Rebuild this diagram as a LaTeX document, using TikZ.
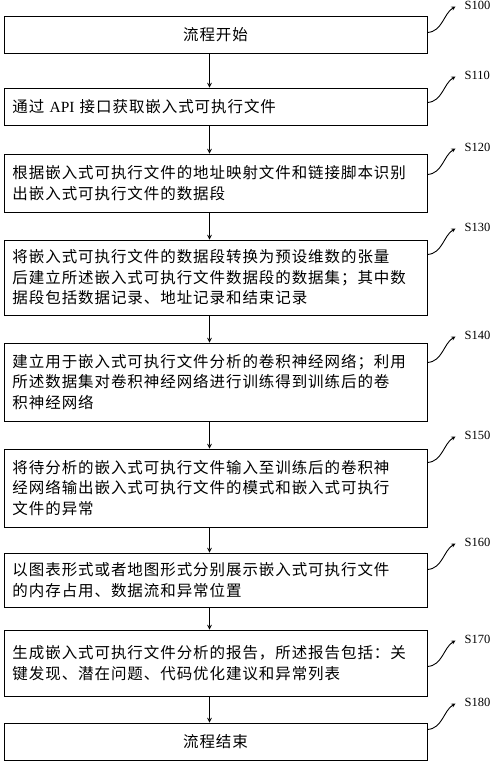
\documentclass[tikz,border=0pt]{standalone}
\usepackage{fontspec}
\setmainfont{Liberation Serif}
\newfontfamily\cjk{Noto Sans CJK SC}[LetterSpace=6]
\usetikzlibrary{calc}

\tikzset{
	stepbox/.style = {draw, line width=1pt, minimum width=423pt, text width=406pt,
		inner xsep=8.5pt, inner ysep=0pt, align=left,
		font=\cjk\fontsize{15.5}{20.5}\selectfont},
	flow/.style = {-stealth, line width=1.1pt},
	tag/.style = {-stealth, line width=0.9pt},
	taglabel/.style = {anchor=west, inner sep=0pt, font=\fontsize{12.5}{14}\selectfont}
}

\begin{document}
\begin{tikzpicture}[x=1pt, y=1pt]
	\useasboundingbox (0,0) rectangle (500,-764);

	\node [stepbox, align=center, minimum height=37pt] (s100) at (215.5,-34.5) {流程开始};
	\node [stepbox, minimum height=37pt] (s110) at (215.5,-106.5) {通过 {\rmfamily API} 接口获取嵌入式可执行文件};
	\node [stepbox, minimum height=58pt] (s120) at (215.5,-183) {根据嵌入式可执行文件的地址映射文件和链接脚本识别\\出嵌入式可执行文件的数据段};
	\node [stepbox, minimum height=75pt] (s130) at (215.5,-277.5) {将嵌入式可执行文件的数据段转换为预设维数的张量\\后建立所述嵌入式可执行文件数据段的数据集；其中数\\据段包括数据记录、地址记录和结束记录};
	\node [stepbox, minimum height=78pt] (s140) at (215.5,-382) {建立用于嵌入式可执行文件分析的卷积神经网络；利用\\所述数据集对卷积神经网络进行训练得到训练后的卷\\积神经网络};
	\node [stepbox, minimum height=78pt] (s150) at (215.5,-488) {将待分析的嵌入式可执行文件输入至训练后的卷积神\\经网络输出嵌入式可执行文件的模式和嵌入式可执行\\文件的异常};
	\node [stepbox, minimum height=54pt] (s160) at (215.5,-580) {以图表形式或者地图形式分别展示嵌入式可执行文件\\的内存占用、数据流和异常位置};
	\node [stepbox, minimum height=66pt] (s170) at (215.5,-663) {生成嵌入式可执行文件分析的报告，所述报告包括：关\\键发现、潜在问题、代码优化建议和异常列表};
	\node [stepbox, align=center, minimum height=37pt] (s180) at (215.5,-741.5) {流程结束};

	\foreach \a/\b in {s100/s110, s110/s120, s120/s130, s130/s140, s140/s150, s150/s160, s160/s170, s170/s180}
	{
		\draw [flow] ([xshift=-6pt]\a.south) -- ([xshift=-6pt]\b.north);
	}

	\foreach \n/\d/\t in {s100/17/S100, s110/15/S110, s120/21/S120, s130/15/S130, s140/20/S140,
		s150/14/S150, s160/17/S160, s170/37/S170, s180/7/S180}
	{
		\coordinate (a\n) at ([yshift=-\d pt]\n.north east);
		\coordinate (t\n) at ($(a\n)+(28,26)$);
		\draw [tag] (a\n) .. controls +(15,1) and +(-12,-7) .. (t\n);
		\node [taglabel] (l\n) at ($(t\n)+(9,1)$) {\t};
	}
\end{tikzpicture}
\end{document}
